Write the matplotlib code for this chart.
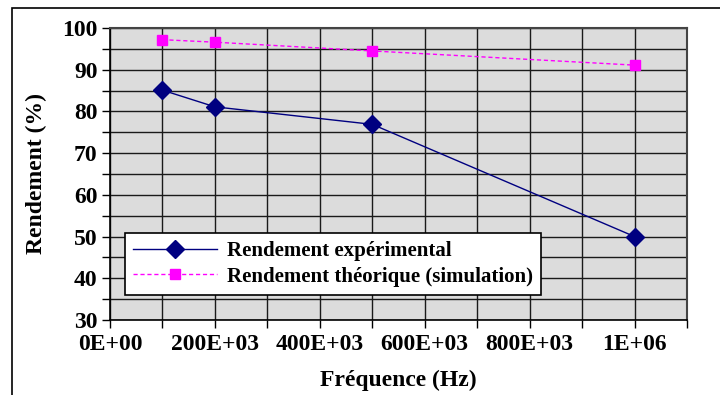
import matplotlib
matplotlib.use("Agg")
import matplotlib.pyplot as plt
from matplotlib.patches import Rectangle
from matplotlib.ticker import MultipleLocator

frequences = [100e3, 200e3, 500e3, 1e6]
rendement_exp = [85.1, 81.1, 76.9, 50.0]
rendement_theo = [97.2, 96.6, 94.5, 91.1]
x_ticks = [0, 200e3, 400e3, 600e3, 800e3, 1e6]
x_tick_labels = ["0E+00", "200E+03", "400E+03", "600E+03", "800E+03", "1E+06"]
label_exp = "Rendement expérimental"
label_theo = "Rendement théorique (simulation)"

plt.rcParams['font.family'] = ['Liberation Serif', 'DejaVu Serif']
plt.rcParams['font.weight'] = 'bold'

fig = plt.figure(figsize=(7.2, 3.95), dpi=100)
W, H = 720, 395
ax = fig.add_axes([110 / W, 1 - 320 / H, 577 / W, 292 / H])

# outer chart border
fig.patches.append(Rectangle((12 / W, -0.1), 1.2, (395 - 8) / H + 0.1, transform=fig.transFigure,
                             fill=False, edgecolor='black', linewidth=1.2))

ax.set_facecolor('#DCDCDC')
ax.set_xlim(0, 1.1e6)
ax.set_ylim(30, 100)

ax.set_xticks(x_ticks)
ax.set_xticklabels(x_tick_labels)
ax.xaxis.set_minor_locator(MultipleLocator(100e3))
ax.yaxis.set_major_locator(MultipleLocator(10))
ax.yaxis.set_minor_locator(MultipleLocator(5))

ax.grid(True, which='both', color='#1a1a1a', linewidth=1.0)
ax.set_axisbelow(True)
ax.tick_params(axis='both', which='both', direction='out', length=6, width=1, color='black')
ax.tick_params(axis='y', which='major', labelsize=17, pad=3)
ax.tick_params(axis='x', which='major', labelsize=17, pad=4)
for lbl in ax.get_xticklabels() + ax.get_yticklabels():
    lbl.set_fontweight('bold')

for s in ['left', 'bottom']:
    ax.spines[s].set_color('black')
    ax.spines[s].set_linewidth(1.2)
for s in ['top', 'right']:
    ax.spines[s].set_color('#444444')
    ax.spines[s].set_linewidth(1.5)

ax.plot(frequences, rendement_exp, color='#000080', linewidth=1, marker='D',
        markersize=9, markerfacecolor='#000080', markeredgecolor='#000080', label=label_exp,
        clip_on=False, zorder=3)
ax.plot(frequences, rendement_theo, color='#FF00FF', linewidth=1, linestyle=(0, (3, 2)), marker='s',
        markersize=7.5, markerfacecolor='#FF00FF', markeredgecolor='#FF00FF', label=label_theo,
        clip_on=False, zorder=3)

ax.set_xlabel("Fréquence (Hz)", fontsize=17, fontweight='bold', labelpad=11)
ax.set_ylabel("Rendement (%)", fontsize=17, fontweight='bold', labelpad=11)

leg = ax.legend(loc='upper left', bbox_to_anchor=((125 - 110) / 577, (320 - 233) / 292),
                fontsize=15, frameon=True, fancybox=False, shadow=False,
                handlelength=4.0, borderpad=0.4, labelspacing=0.25, handletextpad=0.5,
                borderaxespad=0)
leg.get_frame().set_edgecolor('black')
leg.get_frame().set_linewidth(1.2)
leg.get_frame().set_facecolor('white')
leg.get_frame().set_alpha(1)
for t in leg.get_texts():
    t.set_fontweight('bold')

fig.savefig("out.png", dpi=100)
